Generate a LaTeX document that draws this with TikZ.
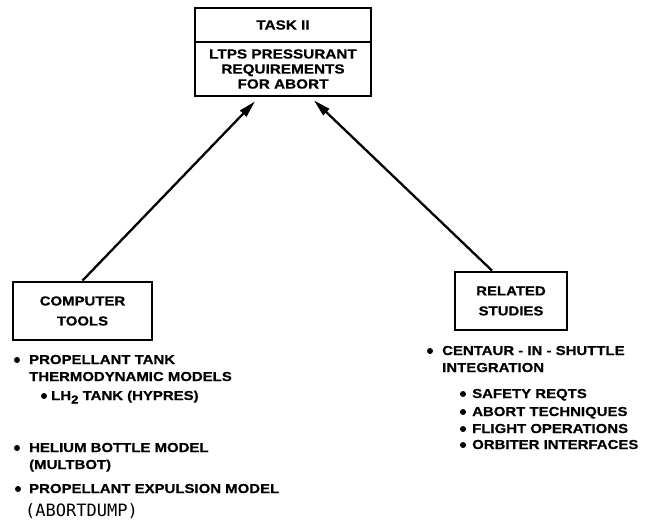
\documentclass[tikz,border=0pt]{standalone}
\usepackage{fontspec}
\usetikzlibrary{arrows.meta}
\newfontfamily\lblfont[FakeStretch=1.15,FakeBold=0.6]{Liberation Sans Bold}
\newfontfamily\monofnt{DejaVu Sans Mono}
\newcommand{\subtwo}{\raisebox{-3.5bp}{\fontsize{11.5bp}{11.5bp}\selectfont 2}}
\tikzset{
  boxbase/.style={draw, line width=2.8bp, inner sep=0pt, align=center, font=\lblfont\fontsize{13bp}{20bp}\selectfont},
  topbox/.style={boxbase, font=\lblfont\fontsize{13.3bp}{15bp}\selectfont, minimum width=176bp},
  item/.style={anchor=base west, inner sep=0pt, font=\lblfont\fontsize{13bp}{15bp}\selectfont},
  dot/.style={circle, fill, inner sep=0pt, minimum size=6bp},
  conn/.style={line width=2.3bp, -{Triangle[length=17bp,width=8.5bp]}}
}
\begin{document}
\begin{tikzpicture}[x=1bp,y=-1bp]
\useasboundingbox (0,0) rectangle (649,522);
% top box
\node[topbox, minimum height=34bp] (taskhead) at (283,25) {TASK II};
\node[topbox, minimum height=54bp] (taskbody) at (283,69) {LTPS PRESSURANT\\REQUIREMENTS\\FOR ABORT};
% lower boxes
\node[boxbase, minimum width=139bp, minimum height=58bp] (comp) at (82.5,311) {COMPUTER\\TOOLS};
\node[boxbase, minimum width=112bp, minimum height=58bp] (rel) at (511,301) {RELATED\\STUDIES};
% connectors
\draw[conn] (comp.north) -- ([xshift=-28bp,yshift=-4bp]taskbody.south);
\draw[conn] ([xshift=-19bp]rel.north) -- ([xshift=31bp,yshift=-3bp]taskbody.south);
% left list
\node[dot] (b1) at (17,360) {};
\node[item] (t1) at (29,364) {PROPELLANT TANK};
\node[item] (t1b) at (29,381) {THERMODYNAMIC MODELS};
\node[dot] (b2) at (44,396) {};
\node[item] (t2) at (51,400) {LH\subtwo\ TANK (HYPRES)};
\node[dot] (b3) at (17,448) {};
\node[item] (t3) at (29,452) {HELIUM BOTTLE MODEL};
\node[item] (t3b) at (29,469) {(MULTBOT)};
\node[dot] (b4) at (18,489) {};
\node[item] (t4) at (29,493) {PROPELLANT EXPULSION MODEL};
\node[anchor=base west, inner sep=0pt, font=\monofnt\fontsize{17bp}{18bp}\selectfont] (t4b) at (25,516) {(ABORTDUMP)};
% right list
\node[dot] (r1) at (430,351) {};
\node[item] (s1) at (442,355) {CENTAUR - IN - SHUTTLE};
\node[item] (s1b) at (442,372) {INTEGRATION};
\node[dot] (r2) at (463,394) {};
\node[item] (s2) at (472,398) {SAFETY REQTS};
\node[dot] (r3) at (463,412) {};
\node[item] (s3) at (472,416) {ABORT TECHNIQUES};
\node[dot] (r4) at (463,429) {};
\node[item] (s4) at (472,433) {FLIGHT OPERATIONS};
\node[dot] (r5) at (463,445) {};
\node[item] (s5) at (472,449) {ORBITER INTERFACES};
\end{tikzpicture}
\end{document}
